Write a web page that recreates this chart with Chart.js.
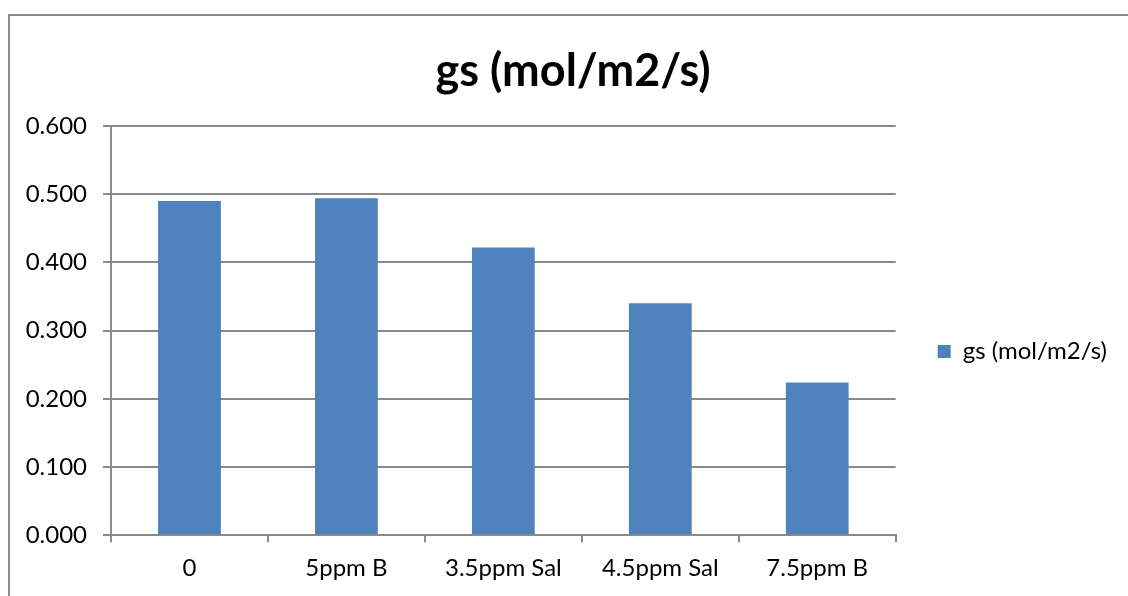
<!DOCTYPE html>
<html>
<head>
<meta charset="utf-8">
<script src="https://cdn.jsdelivr.net/npm/chart.js@4"></script>
<style>
  html, body { margin: 0; padding: 0; background: #fff; }
  #wrap { position: relative; width: 1128px; height: 596px; }
  #frame { position: absolute; left: 8px; top: 14px; right: -10px; bottom: -10px;
           border-top: 2px solid #8a8a8a; border-left: 2px solid #8a8a8a; pointer-events: none; }
</style>
</head>
<body>
<div id="wrap">
  <canvas id="chart" width="1128" height="596"></canvas>
  <div id="frame"></div>
</div>
<script>
// gs (mol/m2/s) by treatment

const categories = ["0", "5ppm B", "3.5ppm Sal", "4.5ppm Sal", "7.5ppm B"];
const gsValues = [0.490, 0.494, 0.422, 0.340, 0.224];
const seriesName = "gs (mol/m2/s)";
const chartTitle = "gs (mol/m2/s)";

const FONT = "Lato, 'Open Sans', sans-serif";
const GRID = "#8a8a8a";
const LEGEND_PAD = 42;    // gap between plot and legend swatch
const LEGEND_RIGHT = 11;  // margin right of legend text
const LEGEND_DROP = 32;   // legend sits a bit below plot middle

// legend: wide gap on the left, small margin on the right, nudged down
var legendGap = {
  id: "legendGap",
  beforeLayout: function(chart) {
    var lg = chart.legend;
    if (lg && !lg._gapPatched) {
      var fit = lg.fit.bind(lg);
      lg.fit = function() { fit(); this.width += LEGEND_RIGHT; };
      lg._gapPatched = true;
    }
  },
  afterLayout: function(chart) {
    var lg = chart.legend;
    if (lg) { lg.top += LEGEND_DROP; lg.bottom += LEGEND_DROP; }
  }
};

var chart = new Chart(document.getElementById("chart"), {
  type: "bar",
  data: {
    labels: categories,
    datasets: [{
      label: seriesName,
      data: gsValues,
      backgroundColor: "#4f81bd",
      borderWidth: 0,
      barPercentage: 0.4,
      categoryPercentage: 1.0
    }]
  },
  plugins: [legendGap],
  options: {
    responsive: false,
    animation: false,
    layout: { padding: { left: 18, right: 0, top: 44, bottom: 1 } },
    plugins: {
      title: {
        display: true,
        text: chartTitle,
        color: "#000",
        font: { family: FONT, size: 45, weight: "bold" },
        padding: { top: 0, bottom: 28 }
      },
      legend: {
        position: "right",
        labels: {
          color: "#000",
          font: { family: FONT, size: 24 },
          boxWidth: 13,
          boxHeight: 13,
          padding: LEGEND_PAD
        }
      },
      tooltip: { enabled: false }
    },
    scales: {
      x: {
        offset: true,
        grid: { display: true, drawOnChartArea: false, drawTicks: true, tickLength: 7, color: GRID, lineWidth: 2, offset: true },
        border: { display: true, color: GRID, width: 2 },
        ticks: { color: "#000", font: { family: FONT, size: 24 }, padding: 12 }
      },
      y: {
        min: 0,
        max: 0.6,
        ticks: {
          stepSize: 0.1,
          color: "#000",
          font: { family: FONT, size: 24 },
          padding: 16,
          callback: function(v) { return v.toFixed(3); }
        },
        grid: { color: GRID, lineWidth: 2, tickLength: 8 },
        border: { display: true, color: GRID, width: 2 },
        afterFit: function(scale) { scale.width = 93; }
      }
    }
  }
});
</script>
</body>
</html>
